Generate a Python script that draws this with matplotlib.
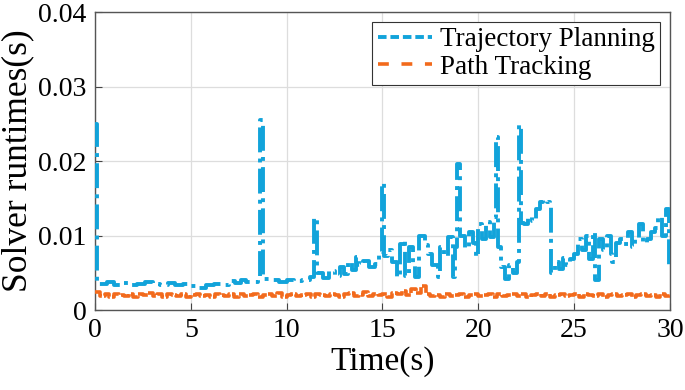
import numpy as np
import matplotlib
matplotlib.use("Agg")
import matplotlib.pyplot as plt
from matplotlib.lines import Line2D

# Trajectory planning solver runtime (breakpoints, seconds / milliseconds)
tp_time = [0.0, 0.1, 0.6, 1.0, 1.4, 1.8, 2.2, 2.6, 3.0, 3.4, 3.8, 4.2, 4.6, 5.0, 5.4, 5.8,
           6.2, 6.6, 7.0, 7.3, 7.6, 7.9, 8.2, 8.5, 8.6, 8.75, 9.2, 9.6, 10.0, 10.4, 10.8,
           11.2, 11.45, 11.6, 11.9, 12.2, 12.5, 12.8, 13.0, 13.2, 13.4, 13.6, 13.8, 14.0,
           14.3, 14.6, 14.8, 15.0, 15.1, 15.3, 15.5, 15.75, 15.9, 16.1, 16.2, 16.4, 16.6,
           16.7, 16.9, 17.2, 17.4, 17.6, 17.9, 18.0, 18.2, 18.4, 18.7, 18.8, 18.9, 19.05,
           19.3, 19.5, 19.7, 19.9, 20.0, 20.2, 20.4, 20.6, 20.8, 20.9, 21.05, 21.2, 21.4,
           21.6, 21.8, 22.0, 22.1, 22.25, 22.4, 22.6, 22.8, 23.0, 23.2, 23.4, 23.6, 23.75,
           23.8, 24.0, 24.2, 24.4, 24.6, 24.8, 25.0, 25.2, 25.4, 25.6, 25.8, 26.0, 26.1,
           26.3, 26.5, 26.7, 26.9, 27.0, 27.2, 27.4, 27.6, 27.8, 28.0, 28.2, 28.4, 28.6,
           28.8, 29.0, 29.2, 29.4, 29.6, 29.8, 29.95, 30.0]
tp_ms = [25.0, 3.5, 3.7, 3.4, 3.6, 3.3, 3.5, 3.7, 3.5, 3.4, 3.6, 3.3, 3.5, 3.2, 3.0, 3.3,
         3.5, 3.3, 3.9, 3.6, 4.0, 3.7, 3.8, 4.0, 25.5, 4.2, 4.0, 3.8, 4.0, 3.9, 4.1,
         4.5, 12.4, 5.0, 4.3, 5.2, 4.6, 5.8, 4.9, 6.5, 5.4, 7.1, 6.0, 6.6,
         5.8, 6.2, 7.8, 17.1, 7.2, 8.0, 6.5, 4.4, 8.8, 9.4, 4.6, 8.5, 6.0,
         4.4, 10.0, 8.7, 7.5, 6.0, 4.4, 8.5, 7.2, 9.8, 4.4, 8.5, 19.6, 10.0,
         8.3, 10.5, 9.0, 7.1, 11.5, 9.5, 11.8, 9.8, 12.5, 23.2, 8.5, 5.8, 4.2,
         6.0, 5.0, 6.5, 24.8, 11.7, 11.5, 12.5, 12.0, 13.5, 14.5, 14.8, 14.5, 14.0,
         5.0, 6.5, 5.5, 7.0, 6.0, 6.8, 7.5, 9.5, 8.0, 10.0, 6.8, 10.5, 4.0,
         9.5, 8.0, 10.0, 7.5, 6.5, 9.0, 9.5, 8.8, 10.5, 8.5, 9.5, 11.5, 9.0,
         9.5, 10.5, 11.0, 12.5, 10.0, 13.5, 5.8, 5.8]

# Path tracking solver runtime (ms), sampled uniformly over 0-30 s
pt_ms = [2.4, 1.9, 2.1, 1.8, 2.2, 2.0, 1.9, 2.2, 1.8, 2.1, 2.0, 2.3, 1.9, 2.1, 1.8,
         2.2, 2.0, 1.9, 2.1, 1.8, 2.0, 2.2, 1.9, 2.0, 1.7, 2.1, 2.0, 1.9, 2.2, 1.8,
         2.1, 1.9, 2.0, 2.2, 1.8, 2.0, 2.1, 1.9, 2.3, 1.8, 2.0, 2.1, 1.9, 2.0, 2.2,
         1.8, 2.1, 2.0, 1.9, 2.2, 2.0, 1.8, 2.1, 2.3, 1.9, 2.0, 2.4, 1.9, 2.2, 2.0,
         2.1, 1.8, 2.3, 2.1, 2.6, 2.0, 2.8, 2.3, 3.2, 2.1, 1.9, 2.0, 1.8, 2.1, 1.9,
         2.0, 2.2, 1.8, 2.0, 2.1, 1.9, 2.0, 2.2, 1.8, 2.1, 1.9, 2.0, 2.2, 1.9, 2.1,
         1.8, 2.0, 2.1, 1.9, 2.2, 1.8, 2.0, 2.1, 1.9, 2.0, 2.2, 1.8, 2.1, 2.0, 1.9,
         2.1, 1.8, 2.0, 2.2, 1.9, 2.0, 2.1, 1.8, 2.0, 2.2, 1.9, 2.0, 1.8, 2.1, 1.9, 2.0]

series_labels = ["Trajectory Planning", "Path Tracking"]
x_ticks = [0, 5, 10, 15, 20, 25, 30]
y_ticks = [0, 0.01, 0.02, 0.03, 0.04]
y_tick_labels = ["0", "0.01", "0.02", "0.03", "0.04"]

plt.rcParams['font.family'] = ['Liberation Serif', 'DejaVu Serif']

fig = plt.figure(figsize=(6.85, 3.9), dpi=100)
ax = fig.add_axes([0.1387, 0.205, 0.8393, 0.764])

blue = '#12a3da'
orange = '#f26a1c'

pt_time = np.linspace(0, 30, len(pt_ms))
ax.plot(tp_time, np.array(tp_ms) / 1000, color=blue, lw=2.8, ls='-.',
        drawstyle='steps-post', zorder=3)
ax.plot(pt_time, np.array(pt_ms) / 1000, color=orange, lw=2.6, ls='--',
        dashes=(3, 0.6), drawstyle='steps-post', zorder=3)

ax.set_xlim(0, 30)
ax.set_ylim(0, 0.04)
ax.set_xticks(x_ticks)
ax.set_xticklabels([str(v) for v in x_ticks])
ax.set_yticks(y_ticks)
ax.set_yticklabels(y_tick_labels)
ax.tick_params(direction='in', labelsize=20, length=5, color='#444444', pad=6)
ax.grid(True, color='#dddddd', lw=0.9)
ax.set_axisbelow(True)
for s in ax.spines.values():
    s.set_color('#555555')
    s.set_linewidth(1.0)

ax.set_xlabel('Time(s)', fontsize=24, labelpad=2)
ax.set_ylabel('Solver runtimes(s)', fontsize=25.5, labelpad=3)

handles = [Line2D([], [], color=blue, lw=2.8, dashes=(2.2, 1.0)),
           Line2D([], [], color=orange, lw=2.6, dashes=(3.0, 3.5))]
leg = ax.legend(handles, series_labels, loc='upper right', fontsize=19.5,
                frameon=True, fancybox=False, edgecolor='#333333', framealpha=1,
                handlelength=2.0, borderpad=0.2, labelspacing=0.1,
                handletextpad=0.3, borderaxespad=0.35)
leg.get_frame().set_linewidth(0.8)

fig.savefig('out.png', dpi=100)
